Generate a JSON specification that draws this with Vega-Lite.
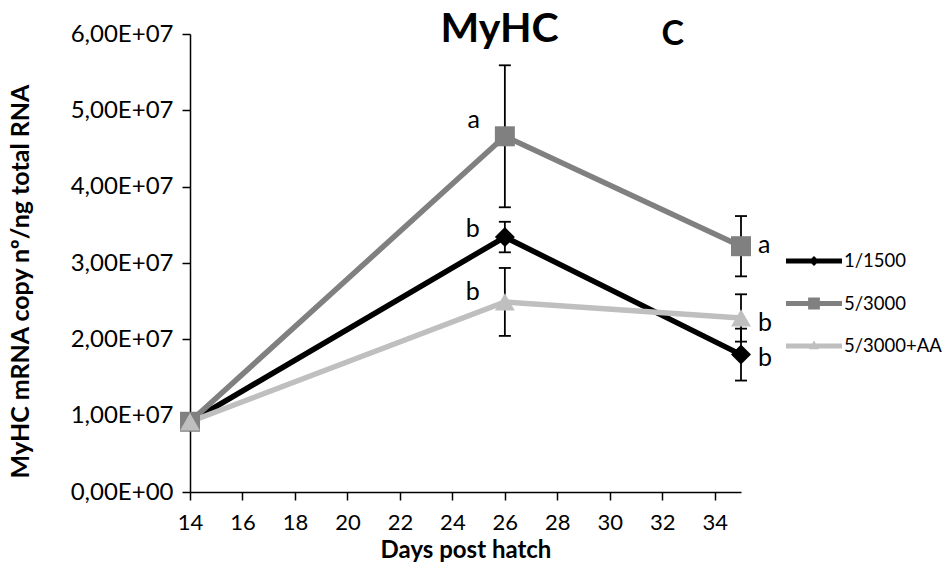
{
  "$schema": "https://vega.github.io/schema/vega-lite/v6.json",
  "width": 551,
  "height": 458,
  "autosize": {"type": "none"},
  "padding": {"left": 190, "top": 34, "right": 203, "bottom": 75},
  "background": "white",
  "config": {
    "font": "Lato",
    "view": {"stroke": null},
    "axis": {"grid": false, "domainColor": "black", "tickColor": "black", "domainWidth": 1.5, "tickWidth": 1.5, "labelColor": "black", "titleColor": "black"}
  },
  "title": {"text": "MyHC", "fontSize": 41, "fontWeight": "bold", "font": "Lato", "anchor": "middle", "dx": 34, "offset": -33, "color": "black"},
  "datasets": {
    "series": [
      {"treatment": "1/1500", "day": 14, "value": 9200000, "err": null},
      {"treatment": "1/1500", "day": 26, "value": 33400000, "err": 2000000},
      {"treatment": "1/1500", "day": 35, "value": 18000000, "err": 3400000},
      {"treatment": "5/3000", "day": 14, "value": 9200000, "err": null},
      {"treatment": "5/3000", "day": 26, "value": 46600000, "err": 9300000},
      {"treatment": "5/3000", "day": 35, "value": 32200000, "err": 3950000},
      {"treatment": "5/3000+AA", "day": 14, "value": 9200000, "err": null},
      {"treatment": "5/3000+AA", "day": 26, "value": 24900000, "err": 4450000},
      {"treatment": "5/3000+AA", "day": 35, "value": 22800000, "err": 3100000}
    ],
    "letters": [
      {"day": 26, "y": 48700000, "label": "a", "side": "left"},
      {"day": 26, "y": 34450000, "label": "b", "side": "left"},
      {"day": 26, "y": 26200000, "label": "b", "side": "left"},
      {"day": 35, "y": 32350000, "label": "a", "side": "right"},
      {"day": 35, "y": 22150000, "label": "b", "side": "right"},
      {"day": 35, "y": 17550000, "label": "b", "side": "right"}
    ],
    "panel": [
      {"day": 32.4, "y": 59900000, "label": "C"}
    ]
  },
  "encoding": {
    "x": {"field": "day", "type": "quantitative", "scale": {"domain": [14, 35], "nice": false, "zero": false},
      "axis": {"values": [14, 16, 18, 20, 22, 24, 26, 28, 30, 32, 34], "title": "Days post hatch", "titleFontSize": 24, "titleFontWeight": "bold", "labelFontSize": 22, "labelFlush": false, "labelOverlap": false, "tickSize": 8, "labelPadding": 12, "titlePadding": 5}}
  },
  "layer": [
    {
      "data": {"name": "series"},
      "transform": [{"filter": "datum.err != null"}, {"calculate": "datum.value - datum.err", "as": "lo"}, {"calculate": "datum.value + datum.err", "as": "hi"}],
      "mark": {"type": "rule", "color": "black", "strokeWidth": 1.8},
      "encoding": {"y": {"field": "lo", "type": "quantitative"}, "y2": {"field": "hi"}}
    },
    {
      "data": {"name": "series"},
      "transform": [{"filter": "datum.err != null"}, {"calculate": "datum.value - datum.err", "as": "lo"}],
      "mark": {"type": "tick", "orient": "horizontal", "color": "black", "size": 12, "thickness": 1.8, "opacity": 1},
      "encoding": {"y": {"field": "lo", "type": "quantitative"}}
    },
    {
      "data": {"name": "series"},
      "transform": [{"filter": "datum.err != null"}, {"calculate": "datum.value + datum.err", "as": "hi"}],
      "mark": {"type": "tick", "orient": "horizontal", "color": "black", "size": 12, "thickness": 1.8, "opacity": 1},
      "encoding": {"y": {"field": "hi", "type": "quantitative"}}
    },
    {
      "data": {"name": "series"},
      "mark": {"type": "line", "strokeWidth": 5.5, "strokeJoin": "miter"},
      "encoding": {
        "y": {"field": "value", "type": "quantitative", "scale": {"domain": [0, 60000000], "nice": false},
          "axis": {"values": [0, 10000000, 20000000, 30000000, 40000000, 50000000, 60000000],
            "labelExpr": "datum.value == 0 ? '0,00E+00' : replace(format(datum.value / 10000000, '.2f'), '.', ',') + 'E+07'",
            "labelFontSize": 24, "tickSize": 8, "labelPadding": 9,
            "title": "MyHC mRNA copy nº/ng total RNA", "titleFontSize": 25, "titleFontWeight": "bold",
            "titleX": -170, "titleY": 247, "titleAngle": -90, "titleAlign": "center", "titleBaseline": "middle"}},
        "color": {"field": "treatment", "type": "nominal", "scale": {"domain": ["1/1500", "5/3000", "5/3000+AA"], "range": ["#000000", "#808080", "#bfbfbf"]},
          "legend": {"orient": "none", "legendX": 596, "legendY": 199, "title": null, "labelFontSize": 18.5, "labelColor": "black", "symbolSize": 3136, "symbolType": "M-1,-0.09H1V0.09H-1Z", "labelOffset": 2, "rowPadding": 4.5,
            "encode": {"symbols": {"update": {
              "shape": {"signal": "datum.value === '1/1500' ? 'M-1,-0.09H1V0.09H-1Z M0,-0.18L0.18,0L0,0.18L-0.18,0Z' : datum.value === '5/3000' ? 'M-1,-0.09H1V0.09H-1Z M-0.21,-0.21H0.21V0.21H-0.21Z' : 'M-1,-0.09H1V0.09H-1Z M0,-0.2L0.18,0.12L-0.18,0.12Z'"},
              "fill": {"scale": "color", "field": "value"},
              "stroke": {"value": "transparent"},
              "strokeWidth": {"value": 0},
              "opacity": {"value": 1}
            }}}}},
        "detail": {"field": "treatment"}
      }
    },
    {
      "data": {"name": "series"},
      "transform": [{"filter": "datum.treatment == '1/1500'"}],
      "mark": {"type": "point", "shape": "diamond", "color": "#000000", "filled": true, "size": 400, "opacity": 1, "strokeWidth": 0},
      "encoding": {"y": {"field": "value", "type": "quantitative"}}
    },
    {
      "data": {"name": "series"},
      "transform": [{"filter": "datum.treatment == '5/3000'"}],
      "mark": {"type": "point", "shape": "square", "color": "#808080", "filled": true, "size": 400, "opacity": 1, "strokeWidth": 0},
      "encoding": {"y": {"field": "value", "type": "quantitative"}}
    },
    {
      "data": {"name": "series"},
      "transform": [{"filter": "datum.treatment == '5/3000+AA'"}],
      "mark": {"type": "point", "shape": "triangle-up", "color": "#bfbfbf", "filled": true, "size": 400, "opacity": 1, "strokeWidth": 0},
      "encoding": {"y": {"field": "value", "type": "quantitative"}}
    },
    {
      "data": {"name": "letters"},
      "transform": [{"filter": "datum.side == 'left'"}],
      "mark": {"type": "text", "align": "right", "baseline": "middle", "dx": -25, "fontSize": 25, "color": "black"},
      "encoding": {"y": {"field": "y", "type": "quantitative"}, "text": {"field": "label"}}
    },
    {
      "data": {"name": "letters"},
      "transform": [{"filter": "datum.side == 'right'"}],
      "mark": {"type": "text", "align": "left", "baseline": "middle", "dx": 17, "fontSize": 25, "color": "black"},
      "encoding": {"y": {"field": "y", "type": "quantitative"}, "text": {"field": "label"}}
    },
    {
      "data": {"name": "panel"},
      "mark": {"type": "text", "align": "center", "baseline": "middle", "fontSize": 34, "fontWeight": "bold", "color": "black"},
      "encoding": {"y": {"field": "y", "type": "quantitative"}, "text": {"field": "label"}}
    }
  ]
}
